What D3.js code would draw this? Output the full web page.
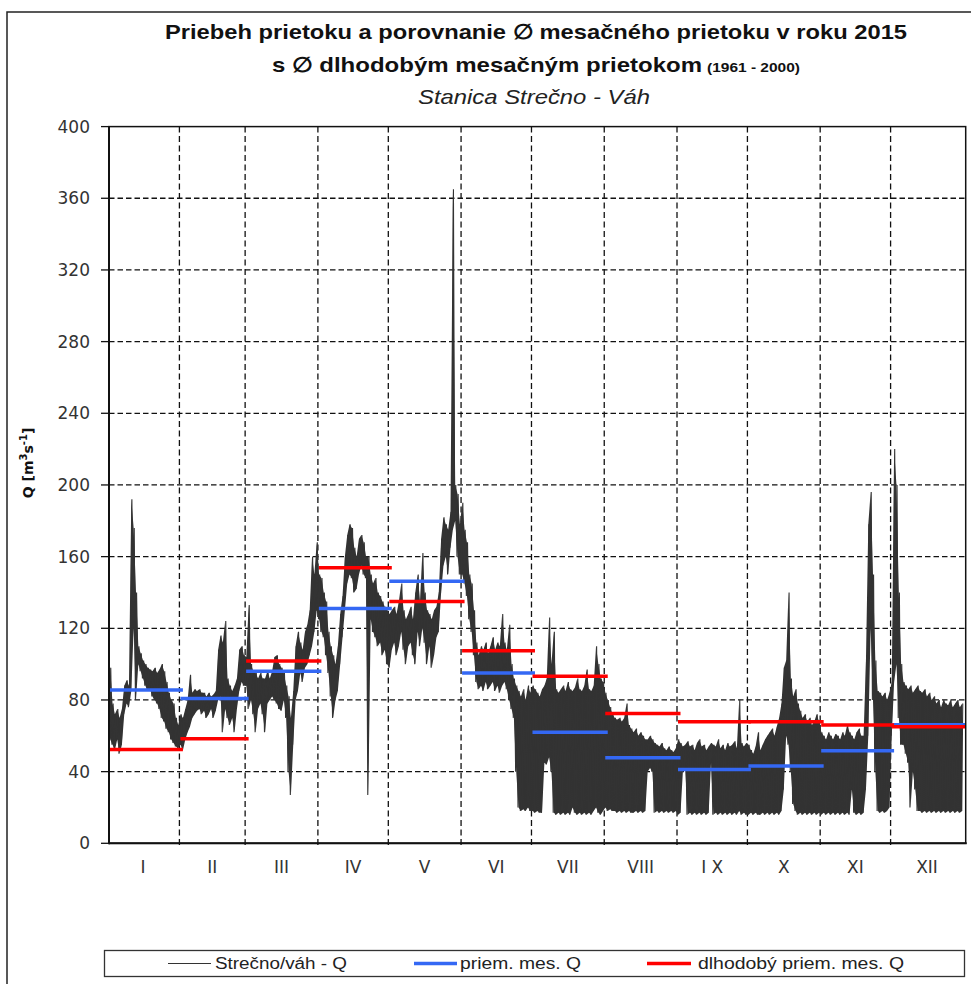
<!DOCTYPE html>
<html><head><meta charset="utf-8">
<script src="https://cdn.jsdelivr.net/npm/d3@7/dist/d3.min.js"></script>
<style>body{margin:0;background:#fff}svg{display:block}</style>
</head><body>
<svg id="chart" width="971" height="984"></svg>
<script>
// ---------- DATA ----------
const months = ["I","II","III","IV","V","VI","VII","VIII","I X","X","XI","XII"];
const monthDays = [31,28,31,30,31,30,31,31,30,31,30,31];
const meanQ = [85.5, 80.8, 96, 131, 146.3, 95.1, 62, 47.8, 41.2, 43.1, 51.6, 66.2];      // priem. mes. Q
const longTermQ = [52.4, 58.3, 101.7, 153.8, 135, 107.5, 93.2, 72.4, 67.8, 67.9, 66, 65.1]; // dlhodobý priem. mes. Q
const yTicks = [0,40,80,120,160,200,240,280,320,360,400];

// daily minimum / maximum of hourly discharge (m3/s)
const janLow  = [70,58,55,52,58,50,55,72,78,76, 85,120,80,100,96,92,88,85,86,82, 80,78,75,70,68,64,62,58,56,54, 53];
const janHigh = [102,98,78,72,75,70,75,88,91,88, 192,176,140,110,106,102,100,98,97,96, 98,95,97,100,96,90,84,80,78,70, 66];
const febLow  = [55,52,58,62,65,70,72,74,75,72, 74,70,72,75,70,74,80,82,62,75, 70,66,70,62,75,85,90,88];
const febHigh = [72,70,75,80,94,84,86,85,86,84, 84,82,84,82,83,85,108,116,112,124, 92,88,85,88,92,108,110,105];
const marLow  = [88,75,80,72,62,75,78,72,62,78, 80,82,80,78,75,74,80,70,40,27, 55,80,85,95,90,98,100,105,110,118, 130];
const marHigh = [104,133,100,96,95,92,95,92,92,96, 92,96,104,105,100,98,95,88,82,70, 85,110,118,112,108,118,122,130,160,150, 168];
const aprLow  = [125,118,115,105,95,82,70,80,85,100, 115,130,145,150,148,140,142,150,155,150, 148,27,125,118,115,110,112,105,108,100];
const aprHigh = [150,148,140,135,118,110,105,100,110,128, 138,160,172,178,176,165,160,170,172,168, 160,160,150,145,148,140,138,135,132,130];
const mayLow  = [98,108,112,105,110,118,108,100,110,112, 105,100,118,110,120,112,100,110,98,105, 115,118,140,155,160,150,165,175,180,160, 150];
const mayHigh = [128,130,132,128,135,145,130,125,128,132, 125,140,150,135,162,140,130,128,125,130, 132,140,170,182,178,175,185,365,200,195, 178];
const junLow  = [150,145,138,125,118,105,90,86,88,85, 90,86,88,90,85,88,84,88,90,86, 80,75,70,40,20,18,19,18,20,18];
const junHigh = [190,175,168,150,145,130,112,105,110,108, 112,106,110,115,108,112,110,128,112,108, 122,100,92,88,85,82,86,80,88,84];
const julLow  = [18,17,18,17,17,45,44,48,40,17, 16,17,16,17,16,17,16,20,17,16, 17,16,17,16,17,16,18,20,17,16, 18];
const julHigh = [88,86,84,82,86,88,92,126,100,118, 86,84,86,88,85,90,86,85,87,92, 86,85,88,97,86,85,88,110,100,92, 90];
const augLow  = [20,18,19,18,18,17,18,17,18,17, 18,17,17,18,17,18,17,18,40,42, 40,17,18,17,18,17,18,17,18,17, 18];
const augHigh = [84,80,76,72,70,69,70,68,70,78, 66,64,62,64,60,62,60,58,58,60, 58,56,55,54,56,53,52,54,52,51, 53];
const sepLow  = [16,17,40,42,16,17,16,17,16,17, 16,17,16,17,45,16,17,16,17,16, 17,16,17,16,17,16,18,16,17,16];
const sepHigh = [58,56,54,55,57,54,55,52,56,58, 54,55,52,54,56,55,54,58,53,55, 52,56,54,55,57,53,80,56,54,56];
const octLow  = [16,17,16,17,16,16,17,16,17,16, 17,16,17,16,18,30,60,55,40,22, 18,16,17,16,17,16,17,16,17,16, 17];
const octHigh = [55,52,50,54,62,52,55,58,60,62, 64,60,65,70,78,98,102,140,92,82, 86,78,74,70,72,68,70,66,68,72, 68];
const novLow  = [16,17,16,17,16,17,16,17,16,17, 16,17,16,30,17,16,17,16,17,30, 60,120,80,40,18,17,18,17,18,20];
const novHigh = [62,60,58,62,60,58,61,60,58,62, 60,66,62,60,58,62,64,60,60,102, 178,196,150,102,85,84,82,84,80,84];
const decLow  = [60,90,100,70,55,55,50,45,20,40, 30,18,18,17,18,17,18,17,18,17, 18,17,18,17,18,17,18,17,18,17, 18];
const decHigh = [90,220,200,140,100,90,88,86,88,84, 86,88,85,84,86,82,84,80,82,78, 80,76,80,78,77,80,76,78,80,76, 78];

const dailyLow  = [janLow,febLow,marLow,aprLow,mayLow,junLow,julLow,augLow,sepLow,octLow,novLow,decLow];
const dailyHigh = [janHigh,febHigh,marHigh,aprHigh,mayHigh,junHigh,julHigh,augHigh,sepHigh,octHigh,novHigh,decHigh];

const titleLine1 = "Priebeh prietoku a porovnanie \u2205 mesačného prietoku v roku 2015";
const titleLine2 = "s \u2205 dlhodobým mesačným prietokom";
const titleLine2b = "(1961 - 2000)";
const titleLine3 = "Stanica Strečno - Váh";
const legendLabels = ["Strečno/váh - Q", "priem. mes. Q", "dlhodobý priem. mes. Q"];

// ---------- LAYOUT ----------
const L = 109, R = 965.7, T = 126.6, B = 843.3;
const svg = d3.select("#chart");
const narrow = "'Liberation Sans Narrow','Liberation Sans',Arial,sans-serif";
const axisFont = "'DejaVu Sans',Verdana,sans-serif";
const seriesColor = "#333";

const monthStart = [];
{ let s = 0; monthDays.forEach(d => { monthStart.push(s); s += d; }); monthStart.push(s); }

const x = d3.scaleLinear().domain([1, 366]).range([L, R]);
const y = d3.scaleLinear().domain([0, 400]).range([B, T]);

// outer frame
svg.append("rect").attr("x", 7).attr("y", 12).attr("width", 980).attr("height", 1000)
  .attr("fill", "none").attr("stroke", "#222").attr("stroke-width", 1.5);

// titles
svg.append("text").attr("x", 536).attr("y", 39).attr("text-anchor", "middle")
  .attr("font-family", narrow).attr("font-weight", "bold").attr("font-size", 21)
  .attr("textLength", 742).attr("lengthAdjust", "spacingAndGlyphs").attr("fill", "#111")
  .text(titleLine1);
svg.append("text").attr("x", 272).attr("y", 72)
  .attr("font-family", narrow).attr("font-weight", "bold").attr("font-size", 21)
  .attr("textLength", 430).attr("lengthAdjust", "spacingAndGlyphs").attr("fill", "#111")
  .text(titleLine2);
svg.append("text").attr("x", 707).attr("y", 72)
  .attr("font-family", narrow).attr("font-weight", "bold").attr("font-size", 13)
  .attr("textLength", 93).attr("lengthAdjust", "spacingAndGlyphs").attr("fill", "#111")
  .text(titleLine2b);
svg.append("text").attr("x", 534).attr("y", 104).attr("text-anchor", "middle")
  .attr("font-family", narrow).attr("font-style", "italic").attr("font-size", 21)
  .attr("textLength", 232).attr("lengthAdjust", "spacingAndGlyphs").attr("fill", "#222")
  .text(titleLine3);

// grid: horizontal
const grid = svg.append("g").attr("stroke", "#111").attr("stroke-width", 1.3);
grid.selectAll("line.h").data(yTicks.filter(v => v > 0 && v < 400)).join("line")
  .attr("x1", L).attr("x2", R).attr("y1", d => y(d)).attr("y2", d => y(d))
  .attr("stroke-dasharray", "5.5,3");
// grid: vertical at month boundaries
const bounds = monthStart.slice(1, 12);
grid.selectAll("line.v").data(bounds).join("line")
  .attr("x1", d => x(d)).attr("x2", d => x(d)).attr("y1", T).attr("y2", B + 4)
  .attr("stroke-dasharray", "6,3.5");

// y ticks & labels
svg.append("g").selectAll("line").data(yTicks).join("line")
  .attr("x1", L - 8).attr("x2", L).attr("y1", d => y(d)).attr("y2", d => y(d))
  .attr("stroke", "#111").attr("stroke-width", 1.3);
svg.append("g").selectAll("text").data(yTicks).join("text")
  .attr("x", 90).attr("y", d => y(d)).attr("dy", "0.36em").attr("text-anchor", "end")
  .attr("font-family", axisFont).attr("font-size", 17).attr("fill", "#333")
  .text(d => d);

// month labels
svg.append("g").selectAll("text").data(months).join("text")
  .attr("x", (d, i) => x(monthStart[i] + monthDays[i] / 2)).attr("y", 873)
  .attr("text-anchor", "middle").attr("font-family", axisFont).attr("font-size", 17).attr("fill", "#333")
  .text(d => d);

// y-axis title
const yt = svg.append("text").attr("transform", "translate(33,463) rotate(-90)")
  .attr("text-anchor", "middle").attr("font-family", axisFont).attr("font-weight", "bold")
  .attr("font-size", 14).attr("fill", "#111");
yt.append("tspan").text("Q [m");
yt.append("tspan").attr("font-size", 10).attr("dy", -6).text("3");
yt.append("tspan").attr("dy", 6).text("s");
yt.append("tspan").attr("font-size", 10).attr("dy", -6).text("-1");
yt.append("tspan").attr("dy", 6).text("]");

// clip
svg.append("clipPath").attr("id", "plotclip").append("rect")
  .attr("x", L).attr("y", T).attr("width", R - L).attr("height", B - T);

// series: daily band (min..max) plus hourly-like zigzag between daily min and max
const days = [];
const pts = [];
dailyLow.forEach((arr, m) => {
  arr.forEach((lo, i) => {
    const hi = dailyHigh[m][i];
    days.push({ t: monthStart[m] + i + 0.5, lo, hi });
    pts.push({ t: monthStart[m] + i + 0.25, q: lo });
    pts.push({ t: monthStart[m] + i + 0.75, q: hi });
  });
});
const series = svg.append("g").attr("clip-path", "url(#plotclip)");
const area = d3.area().x(d => x(d.t)).y0(d => y(d.lo)).y1(d => y(d.hi));
series.append("path").datum(days).attr("d", area).attr("fill", seriesColor).attr("stroke", "none");
const line = d3.line().x(d => x(d.t)).y(d => y(d.q));
series.append("path").datum(pts)
  .attr("d", line).attr("fill", "none").attr("stroke", seriesColor).attr("stroke-width", 1.1);

// monthly means
function monthSegments(values, color) {
  svg.append("g").selectAll("line").data(values).join("line")
    .attr("x1", (d, i) => Math.max(L, x(monthStart[i]) + 1))
    .attr("x2", (d, i) => Math.min(R, x(monthStart[i + 1]) + 3.5))
    .attr("y1", d => y(d)).attr("y2", d => y(d))
    .attr("stroke", color).attr("stroke-width", 3.5);
}
monthSegments(meanQ, "#3468f4");
monthSegments(longTermQ, "#ff0000");

// plot border / axes
svg.append("rect").attr("x", L).attr("y", T).attr("width", R - L).attr("height", B - T)
  .attr("fill", "none").attr("stroke", "#111").attr("stroke-width", 1.5);
svg.append("line").attr("x1", L).attr("x2", L).attr("y1", T).attr("y2", B + 1)
  .attr("stroke", "#111").attr("stroke-width", 2);
svg.append("line").attr("x1", L).attr("x2", R + 1).attr("y1", B).attr("y2", B)
  .attr("stroke", "#111").attr("stroke-width", 2);

// legend
const lg = svg.append("g");
lg.append("rect").attr("x", 104.5).attr("y", 950.5).attr("width", 860).attr("height", 26)
  .attr("fill", "#fff").attr("stroke", "#333").attr("stroke-width", 1.3);
const legendStyle = [
  { color: seriesColor, w: 1.2, x1: 168, x2: 211, tx: 215, tl: 132 },
  { color: "#3468f4", w: 3.5, x1: 414, x2: 457, tx: 460, tl: 121 },
  { color: "#ff0000", w: 3.5, x1: 647, x2: 691, tx: 698, tl: 206 }
];
legendLabels.forEach((lab, i) => {
  const s = legendStyle[i];
  lg.append("line").attr("x1", s.x1).attr("x2", s.x2).attr("y1", 963.5).attr("y2", 963.5)
    .attr("stroke", s.color).attr("stroke-width", s.w);
  lg.append("text").attr("x", s.tx).attr("y", 969).attr("font-family", narrow).attr("font-size", 16)
    .attr("textLength", s.tl).attr("lengthAdjust", "spacingAndGlyphs").attr("fill", "#222").text(lab);
});
</script>
</body></html>
